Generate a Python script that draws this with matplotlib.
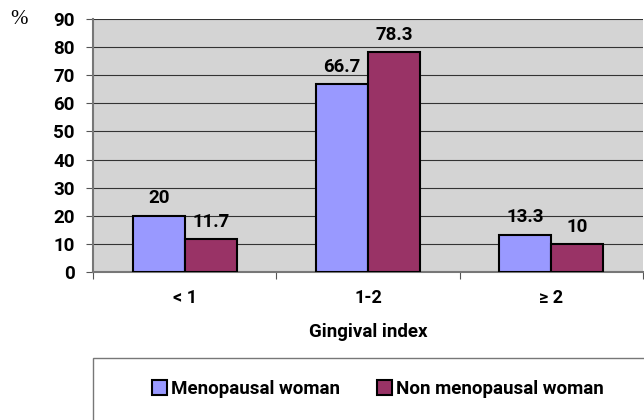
import numpy as np
import matplotlib.pyplot as plt
from matplotlib.patches import Rectangle

# --- data ---
categories = ['< 1', '1-2', '≥ 2']
menopausal = [20, 66.7, 13.3]
non_menopausal = [11.7, 78.3, 10]
series_names = ['Menopausal woman', 'Non menopausal woman']
yticks = list(range(0, 100, 10))

plt.rcParams['font.family'] = ['Roboto', 'DejaVu Sans']
plt.rcParams['font.weight'] = 'bold'

fig = plt.figure(figsize=(6.44, 4.2), dpi=100)
ax = fig.add_axes([93 / 644, 148 / 420, 550 / 644, 253 / 420])
ax.set_facecolor('#D4D4D4')

x = np.arange(len(categories))
w = 0.284
b1 = ax.bar(x - w / 2, menopausal, w, color='#9999FF', edgecolor='black', linewidth=1.5,
            label=series_names[0], zorder=3)
b2 = ax.bar(x + w / 2, non_menopausal, w, color='#993366', edgecolor='black', linewidth=1.5,
            label=series_names[1], zorder=3)

for bars, vals in ((b1, menopausal), (b2, non_menopausal)):
    for r, v in zip(bars, vals):
        ax.annotate(f'{v:g}', (r.get_x() + r.get_width() / 2, v), xytext=(0, 6),
                    textcoords='offset points', ha='center', va='bottom',
                    fontsize=13.5, fontweight='bold')

ax.set_xlim(-0.5, 2.5)
ax.set_ylim(0, 90)
ax.set_yticks(yticks)
ax.yaxis.grid(True, color='#333333', linewidth=0.8, zorder=0)
ax.tick_params(axis='y', labelsize=13.5, length=5, width=0.8, color='#555555', pad=8)
ax.set_xticks(x)
ax.set_xticklabels(categories, fontsize=13, fontweight='bold')
ax.tick_params(axis='x', length=0, pad=12)
ax.set_xticks([-0.5, 0.5, 1.5, 2.5], minor=True)
ax.tick_params(axis='x', which='minor', length=5, width=0.8, color='#555555')
for s in ['top', 'right']:
    ax.spines[s].set_visible(False)
ax.spines['left'].set_color('#777777')
ax.spines['bottom'].set_color('#777777')
ax.spines['left'].set_linewidth(1.5)
ax.spines['bottom'].set_linewidth(1.5)

ax.set_xlabel('Gingival index', fontsize=13.5, fontweight='bold', labelpad=12)

fig.text(10 / 644, 1 - 19 / 420, '%', fontsize=15, family='Liberation Serif',
         fontweight='normal', va='center', ha='left')

# legend box
fig.patches.append(Rectangle((93 / 644, -0.05), 560 / 644, (420 - 358) / 420 + 0.05,
                             transform=fig.transFigure, facecolor='white',
                             edgecolor='#777777', linewidth=1))
leg = fig.legend(handles=[b1, b2], loc='center', bbox_to_anchor=(378 / 644, 1 - 389 / 420),
                 ncol=2, frameon=False, fontsize=13.5, handlelength=0.8, handleheight=0.8,
                 handletextpad=0.2, columnspacing=2.0)

fig.savefig('out.png', dpi=100)
